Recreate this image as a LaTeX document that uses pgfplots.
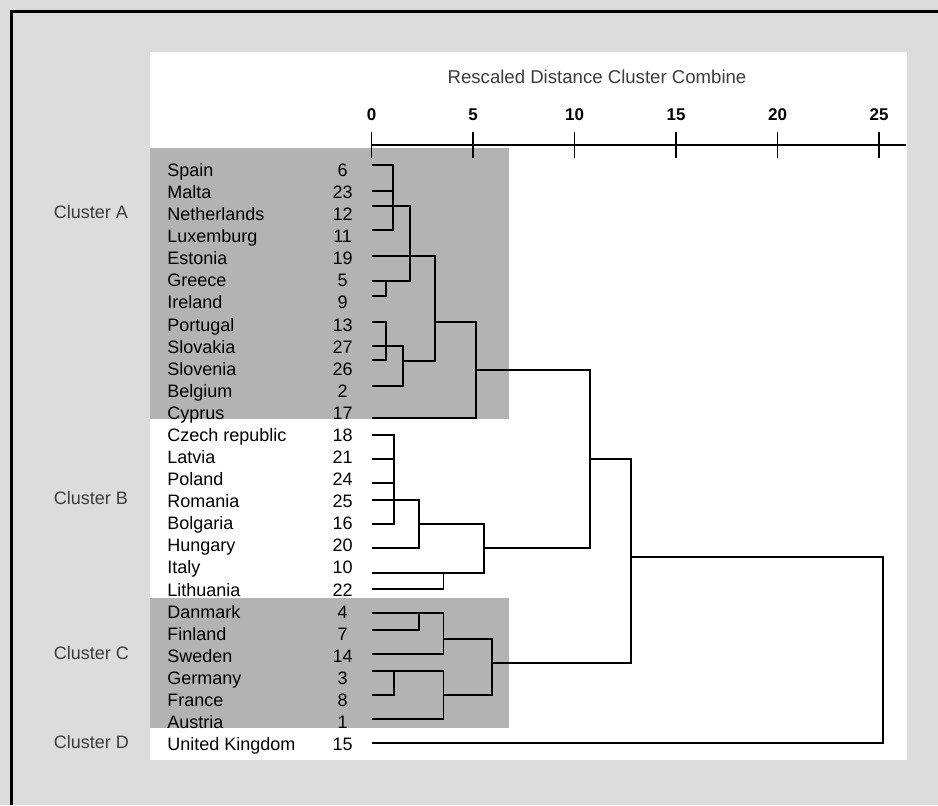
\documentclass[border=0pt]{standalone}
\usepackage{fontspec}
\setmainfont{Liberation Sans}
\usepackage{pgfplots}
\pgfplotsset{compat=1.18}

\definecolor{panel}{HTML}{DCDCDC}
\definecolor{boxgrey}{HTML}{B3B3B3}
\definecolor{note}{HTML}{3C3C3C}

% country name and case number, one row of the dendrogram
\newcommand{\row}[2]{\makebox[80.15pt][l]{#1}\makebox[15pt][c]{#2}}

\begin{document}
\begin{tikzpicture}
% page frame (coordinates in pixels of the reference, y downwards)
\begin{scope}[x=0.5pt,y=-0.5pt]
  \fill[panel] (0,0) rectangle (938,805);
  \fill[white] (150,52) rectangle (907,760);
  \draw[line width=1.5pt] (11.5,805) -- (11.5,11.5) -- (938,11.5);
\end{scope}

\begin{axis}[
  at={(185.85pt,-72.5pt)}, anchor=north west,
  scale only axis, width=267.15pt, height=310.6pt,
  xmin=0, xmax=26.32, ymin=-1.132, ymax=27,
  y dir=reverse, clip=false, axis on top,
  axis x line*=top, axis y line*=left,
  y axis line style={draw=none},
  x axis line style={line width=0.75pt},
  xtick={0,5,10,15,20,25},
  xtick style={line width=0.75pt, black},
  major tick length=13pt, tick align=center,
  xticklabel style={font=\fontsize{8.5}{10}\selectfont\bfseries, anchor=base, inner sep=0pt, yshift=5.6pt},
  /pgf/number format/assume math mode=true,
  ytick={0,...,26},
  ytick style={draw=none},
  yticklabel style={font=\fontsize{9}{11}\selectfont, anchor=base east, inner sep=0pt, xshift=-0.35pt, yshift=-3.22pt},
  yticklabels={
    {\row{Spain}{6}}, {\row{Malta}{23}}, {\row{Netherlands}{12}}, {\row{Luxemburg}{11}},
    {\row{Estonia}{19}}, {\row{Greece}{5}}, {\row{Ireland}{9}}, {\row{Portugal}{13}},
    {\row{Slovakia}{27}}, {\row{Slovenia}{26}}, {\row{Belgium}{2}}, {\row{Cyprus}{17}},
    {\row{Czech republic}{18}}, {\row{Latvia}{21}}, {\row{Poland}{24}}, {\row{Romania}{25}},
    {\row{Bolgaria}{16}}, {\row{Hungary}{20}}, {\row{Italy}{10}}, {\row{Lithuania}{22}},
    {\row{Danmark}{4}}, {\row{Finland}{7}}, {\row{Sweden}{14}}, {\row{Germany}{3}},
    {\row{France}{8}}, {\row{Austria}{1}}, {\row{United Kingdom}{15}}},
  title={Rescaled Distance Cluster Combine},
  title style={at={(0.4217,1.0902)}, anchor=center, inner sep=0pt,
    font=\fontsize{9.3}{11}\selectfont, text=note},
  cycle list={{black, solid, mark=none}},
  every axis plot post/.append style={line width=0.85pt},
]
% shaded clusters A and C
\fill[boxgrey] (axis cs:-10.92,-1.0) rectangle (axis cs:6.76,11.28);
\fill[boxgrey] (axis cs:-10.92,19.38) rectangle (axis cs:6.76,25.27);

% cluster A
\addplot coordinates {(0,-0.23) (1.06,-0.23) (1.06,2.72) (0,2.72)};
\addplot coordinates {(0,0.95) (1.06,0.95)};
\addplot coordinates {(0,1.63) (1.89,1.63) (1.89,5.03) (0,5.03)};
\addplot coordinates {(0,5.71) (0.70,5.71) (0.70,5.03)};
\addplot coordinates {(0,3.89) (3.12,3.89) (3.12,8.65) (1.53,8.65)};
\addplot coordinates {(0,6.88) (0.70,6.88) (0.70,8.61) (0,8.61)};
\addplot coordinates {(0,7.97) (1.53,7.97) (1.53,9.78) (0,9.78)};
\addplot coordinates {(3.12,6.87) (5.14,6.87) (5.14,11.23) (0,11.23)};
% A joins B
\addplot coordinates {(5.14,9.06) (10.75,9.06) (10.75,17.12) (5.53,17.12)};
% cluster B
\addplot coordinates {(0,12.00) (1.10,12.00) (1.10,16.03) (0,16.03)};
\addplot coordinates {(0,13.09) (1.10,13.09)};
\addplot coordinates {(0,14.18) (1.10,14.18)};
\addplot coordinates {(0,14.95) (2.33,14.95) (2.33,17.12) (0,17.12)};
\addplot coordinates {(2.33,16.03) (5.53,16.03) (5.53,18.25) (0,18.25)};
\addplot coordinates {(0,18.98) (3.53,18.98) (3.53,18.25)};
% cluster C
\addplot coordinates {(0,20.06) (3.53,20.06) (3.53,21.92) (0,21.92)};
\addplot coordinates {(0,20.83) (2.33,20.83) (2.33,20.06)};
\addplot coordinates {(0,22.69) (3.53,22.69) (3.53,24.86) (0,24.86)};
\addplot coordinates {(0,23.78) (1.10,23.78) (1.10,22.69)};
\addplot coordinates {(3.53,21.24) (5.94,21.24) (5.94,23.78) (3.53,23.78)};
% C joins A+B, then United Kingdom
\addplot coordinates {(5.94,22.33) (12.76,22.33) (12.76,13.09) (10.75,13.09)};
\addplot coordinates {(12.76,17.53) (25.18,17.53) (25.18,25.95) (0,25.95)};

% cluster names
\begin{scope}[every node/.style={anchor=base west, inner sep=0pt, yshift=-3.22pt,
    font=\fontsize{9}{11}\selectfont, text=note}]
  \node at (axis cs:-15.68,1.89) {Cluster A};
  \node at (axis cs:-15.68,14.86) {Cluster B};
  \node at (axis cs:-15.68,21.88) {Cluster C};
  \node at (axis cs:-15.68,25.90) {Cluster D};
\end{scope}
\end{axis}
\pgfresetboundingbox
\useasboundingbox (0,0) rectangle (469pt,-402.5pt);
\end{tikzpicture}
\end{document}
